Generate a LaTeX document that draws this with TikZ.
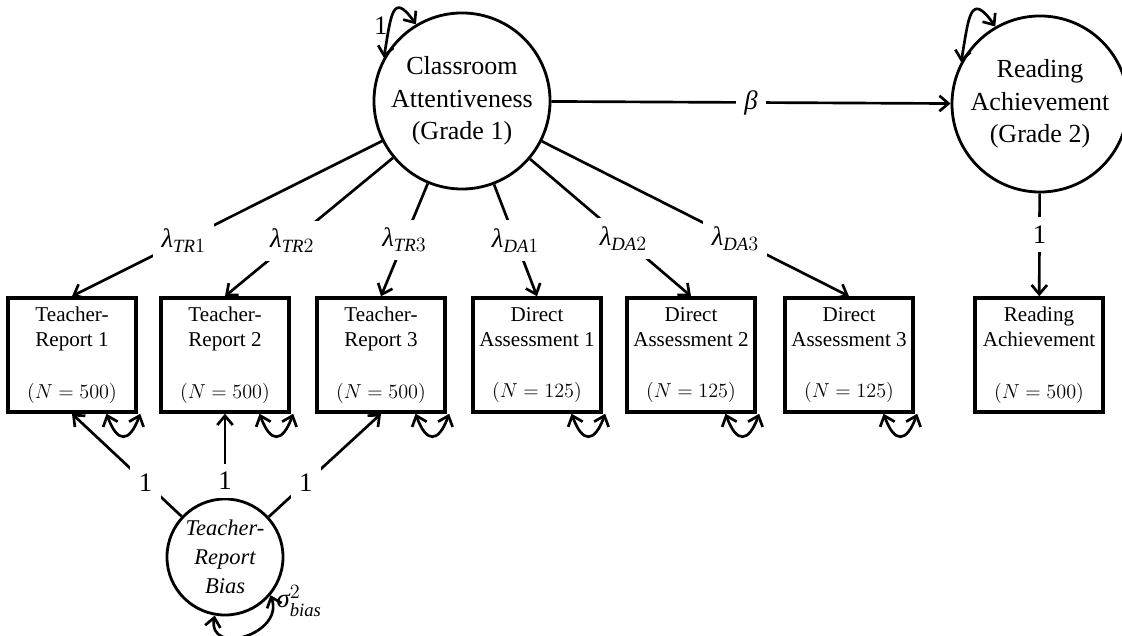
\documentclass[tikz,border=0pt]{standalone}
\usepackage{amsmath,amssymb}
\usepackage{fontspec}
\setmainfont{Liberation Serif}
\usetikzlibrary{arrows.meta}

\begin{document}
\begin{tikzpicture}[x=0.025cm, y=0.025cm, line width=1.9pt,
  >={Straight Barb[length=6.5pt,width=11pt]},
  latent/.style={circle, draw, line width=2pt, inner sep=0pt, minimum size=4.4cm, align=center, font=\fontsize{18.5}{23}\selectfont},
  biasnode/.style={circle, draw, line width=2pt, inner sep=0pt, minimum size=2.9cm, align=center, font=\itshape\fontsize{16}{20.5}\selectfont},
  obs/.style={rectangle, draw, line width=2.5pt, minimum width=3.2cm, minimum height=2.85cm, align=center, font=\fontsize{15}{17.8}\selectfont},
  lbl/.style={fill=white, inner sep=6pt, font=\fontsize{19}{22}\selectfont},
  resid/.style={<->, looseness=2.4}]

\useasboundingbox (0,0) rectangle (1122,636);

% latent variables
\node[latent] (cl) at (462,535) {Classroom\\Attentiveness\\(Grade 1)};
\node[latent] (ra) at (1040,532) {Reading\\Achievement\\(Grade 2)};
\node[biasnode] (bias) at (225,79) {Teacher-\\Report\\Bias};

% observed measures
\node[obs] (tr1) at (72,281) {Teacher-\\Report 1\\[19pt]$(N=500)$};
\node[obs] (tr2) at (225,281) {Teacher-\\Report 2\\[19pt]$(N=500)$};
\node[obs] (tr3) at (381,281) {Teacher-\\Report 3\\[19pt]$(N=500)$};
\node[obs] (da1) at (537,281) {Direct\\Assessment 1\\[19pt]$(N=125)$};
\node[obs] (da2) at (691,281) {Direct\\Assessment 2\\[19pt]$(N=125)$};
\node[obs] (da3) at (849,281) {Direct\\Assessment 3\\[19pt]$(N=125)$};
\node[obs] (rab) at (1039,281) {Reading\\Achievement\\[19pt]$(N=500)$};

\draw[->] (cl) -- node[lbl] {$\textit{β}$} (ra);

\draw[->] (cl) -- node[lbl,pos=0.64] {$\textit{λ}_{\mathit{TR}1}$} (tr1.north);
\draw[->] (cl) -- node[lbl,pos=0.60] {$\textit{λ}_{\mathit{TR}2}$} (tr2.north);
\draw[->] (cl) -- node[lbl,pos=0.50] {$\textit{λ}_{\mathit{TR}3}$} (tr3.north);
\draw[->] (cl) -- node[lbl,pos=0.50] {$\textit{λ}_{\mathit{DA}1}$} (da1.north);
\draw[->] (cl) -- node[lbl,pos=0.58] {$\textit{λ}_{\mathit{DA}2}$} (da2.north);
\draw[->] (cl) -- node[lbl,pos=0.63] {$\textit{λ}_{\mathit{DA}3}$} (da3.north);
\draw[->] (ra) -- node[lbl,pos=0.4] {1} (rab);

\draw[->] (bias) -- node[lbl,pos=0.33] {1} (tr1.south);
\draw[->] (bias) -- node[lbl,pos=0.2] {1} (tr2.south);
\draw[->] (bias) -- node[lbl,pos=0.33] {1} (tr3.south);

% variances
\draw[<->] (cl.151) to[out=80,in=125,looseness=2.3] node[pos=0.3,left=-3pt,font=\fontsize{19}{22}\selectfont] {1} (cl.121);
\draw[<->] (ra.152) to[out=80,in=125,looseness=2.3] (ra.120);
\draw[<->] (bias.-100) to[out=-100,in=-70,looseness=1.8] node[pos=0.95,right=-1pt,font=\fontsize{19}{22}\selectfont] {$\textit{σ}^2_{\mathit{bias}}$} (bias.-40);

\foreach \b in {tr1,tr2,tr3,da1,da2,da3}
  \draw[resid] ([xshift=-0.78cm]\b.south east) to[out=-70,in=-110] ([xshift=0.06cm]\b.south east);

\end{tikzpicture}
\end{document}
